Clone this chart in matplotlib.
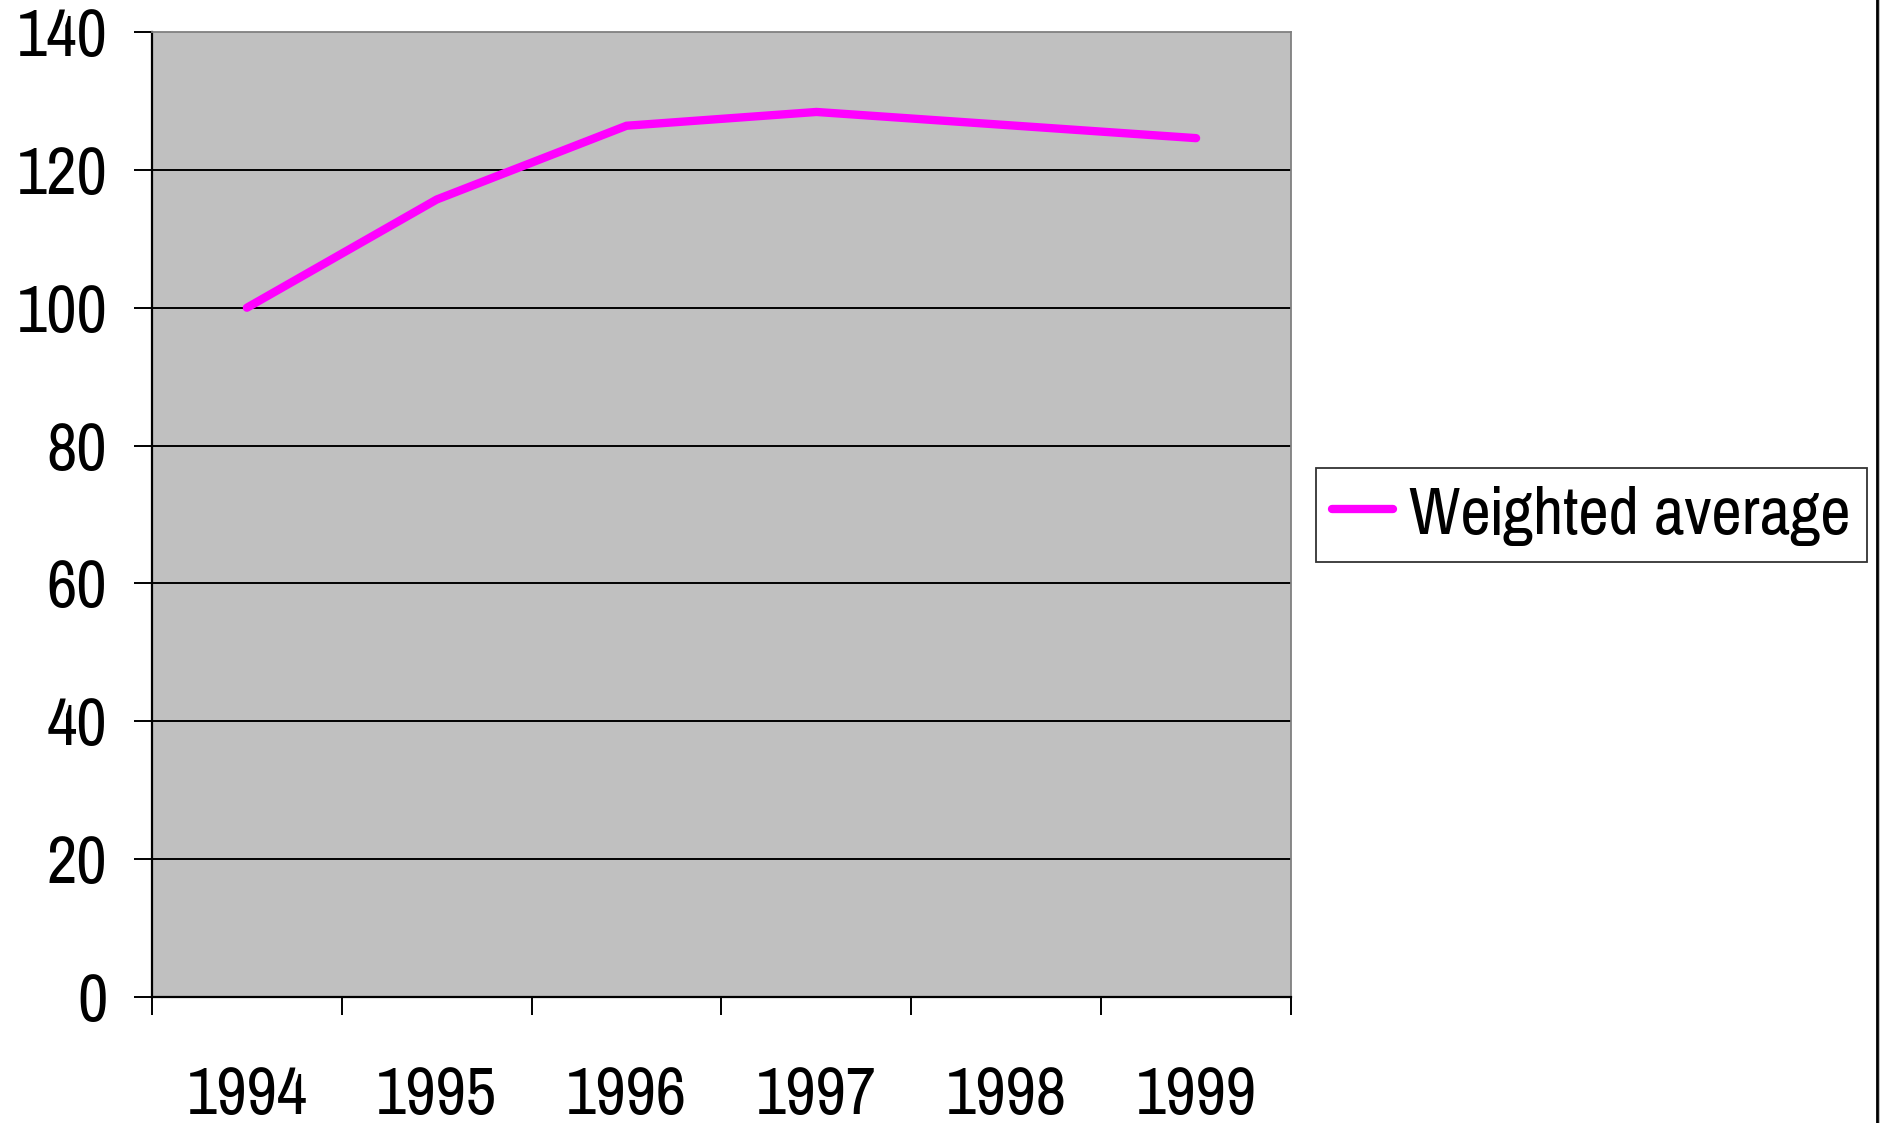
import matplotlib
matplotlib.use("Agg")
import matplotlib.pyplot as plt
from matplotlib.lines import Line2D
from matplotlib.patches import Rectangle
import numpy as np

plt.rcParams['font.family'] = ['Pragati Narrow', 'Liberation Sans', 'DejaVu Sans']

years = ["1994", "1995", "1996", "1997", "1998", "1999"]
weighted_average = [100.0, 115.7, 126.4, 128.4, 126.5, 124.6]
series_name = "Weighted average"
y_ticks = [0, 20, 40, 60, 80, 100, 120, 140]

W, H = 1881, 1123
fig = plt.figure(figsize=(W / 100, H / 100), dpi=100)
fig.patch.set_facecolor("white")

left, right, top, bottom = 152, 1291, 32, 997
ax = fig.add_axes([left / W, 1 - bottom / H, (right - left) / W, (bottom - top) / H])
ax.set_facecolor("#C0C0C0")

x = np.arange(len(years)) + 0.5
ax.plot(x, weighted_average, color="#FF00FF", lw=6.0, solid_capstyle="round",
        solid_joinstyle="miter", label=series_name, zorder=3)

ax.set_xlim(0, len(years))
ax.set_ylim(0, 140)

FS = 52

# y axis
ax.set_yticks(y_ticks)
ax.set_yticklabels([str(v) for v in y_ticks])
ax.tick_params(axis="y", direction="out", length=13.2, width=1.4, pad=19, labelsize=FS, color="black")
for v in y_ticks[1:-1]:
    ax.axhline(v, color="black", lw=1.4, zorder=1)

# x axis: tick marks at category boundaries, labels at centres
ax.set_xticks(np.arange(len(years) + 1))
ax.set_xticklabels([])
ax.tick_params(axis="x", which="major", direction="out", length=13.2, width=1.4, color="black")
ax.set_xticks(x, minor=True)
ax.set_xticklabels(years, minor=True)
ax.tick_params(axis="x", which="minor", length=0, pad=84, labelsize=FS)
for t in ax.get_xticklabels(minor=True):
    t.set_verticalalignment("baseline")

for s in ["left", "bottom"]:
    ax.spines[s].set_color("black")
    ax.spines[s].set_linewidth(1.6)
for s in ["top", "right"]:
    ax.spines[s].set_color("#808080")
    ax.spines[s].set_linewidth(1.3)

leg = fig.legend(handles=[Line2D([0], [0], color="#FF00FF", lw=6.0, solid_capstyle="round")],
                 labels=[series_name], loc="upper left",
                 bbox_to_anchor=(1316 / W, 1 - 468 / H), borderaxespad=0,
                 fontsize=52, frameon=True, fancybox=False, handlelength=0.85,
                 handletextpad=0.22, borderpad=0.22)
leg.get_frame().set_edgecolor("black")
leg.get_frame().set_linewidth(1.3)

# chart border on right edge
fig.add_artist(Rectangle((1879 / W, 0), 2 / W, 1, transform=fig.transFigure,
                         facecolor="#C0C0C0", edgecolor="none"))
fig.add_artist(Line2D([1877.5 / W, 1877.5 / W], [0, 1], transform=fig.transFigure,
                      color="black", lw=2))

fig.savefig("out.png", dpi=100)
